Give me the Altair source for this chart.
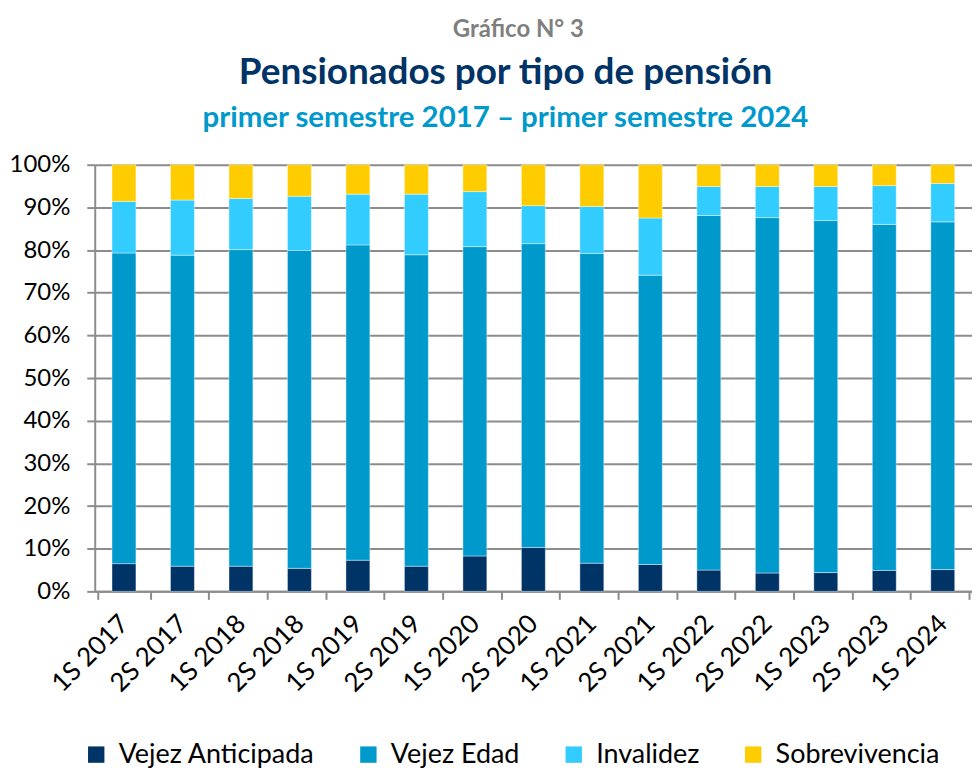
import altair as alt
import pandas as pd

categories = ["1S 2017", "2S 2017", "1S 2018", "2S 2018", "1S 2019", "2S 2019",
              "1S 2020", "2S 2020", "1S 2021", "2S 2021", "1S 2022", "2S 2022",
              "1S 2023", "2S 2023", "1S 2024"]
vejez_anticipada = [6.5, 5.9, 5.9, 5.4, 7.3, 5.9, 8.3, 10.3, 6.6, 6.3, 5.0, 4.3, 4.4, 4.9, 5.1]
vejez_edad = [72.8, 72.9, 74.2, 74.5, 73.9, 73.0, 72.5, 71.2, 72.6, 67.8, 83.1, 83.3, 82.5, 81.1, 81.5]
invalidez = [12.1, 12.9, 12.0, 12.7, 11.9, 14.2, 12.9, 8.9, 11.0, 13.4, 6.8, 7.3, 8.0, 9.1, 9.0]
sobrevivencia = [8.6, 8.3, 7.9, 7.4, 6.9, 6.9, 6.3, 9.6, 9.8, 12.5, 5.1, 5.1, 5.1, 4.9, 4.4]

series_names = ["Vejez Anticipada", "Vejez Edad", "Invalidez", "Sobrevivencia"]
series_colors = ["#003366", "#0099CC", "#33CCFF", "#FFCC00"]
y_ticks = [0, 0.1, 0.2, 0.3, 0.4, 0.5, 0.6, 0.7, 0.8, 0.9, 1.0]

rows = []
for i, c in enumerate(categories):
    for k, (name, vals) in enumerate(zip(series_names,
                                         [vejez_anticipada, vejez_edad, invalidez, sobrevivencia])):
        rows.append({"periodo": c, "tipo": name, "valor": vals[i], "orden": k})
df = pd.DataFrame(rows)

FONT = "Lato"

bars = alt.Chart(df).mark_bar(size=24, stroke="#ffffff", strokeWidth=1, strokeOpacity=0.4).encode(
    x=alt.X("periodo:N", sort=categories, title=None,
            axis=alt.Axis(labelAngle=-45, labelAlign="right", labelBaseline="middle",
                          labelFontSize=26, labelFont=FONT, labelColor="#000000",
                          labelPadding=20, tickBand="extent", tickSize=8,
                          tickColor="#8c8c8c", tickWidth=2, domainColor="#8c8c8c",
                          domainWidth=2, grid=False)),
    y=alt.Y("valor:Q", stack="normalize", title=None,
            scale=alt.Scale(domain=[0, 1], nice=False),
            axis=alt.Axis(values=y_ticks, format=".0%", labelFontSize=24, labelFont=FONT,
                          labelColor="#000000", labelPadding=17, tickSize=8,
                          tickColor="#8c8c8c", tickWidth=2, domainColor="#8c8c8c",
                          domainWidth=2, gridColor="#8c8c8c", gridWidth=2)),
    color=alt.Color("tipo:N", sort=series_names,
                    scale=alt.Scale(domain=series_names, range=series_colors),
                    legend=alt.Legend(title=None, orient="none", direction="horizontal",
                                      legendX=-12, legendY=578, symbolType="square",
                                      symbolSize=270, symbolStrokeWidth=0,
                                      labelFontSize=27, labelFont=FONT, labelColor="#000000",
                                      labelLimit=0, columnPadding=40, labelOffset=9)),
    order=alt.Order("orden:Q", sort="ascending"),
)

title_df = pd.DataFrame({"t": [0]})
t1 = alt.Chart(title_df).mark_text(font=FONT, fontSize=24, fontWeight="bold", color="#7f7f7f",
                                   baseline="middle", align="center").encode(
    x=alt.value(425), y=alt.value(-135), text=alt.value("Gráfico N° 3"))
t2 = alt.Chart(title_df).mark_text(font=FONT, fontSize=37, fontWeight="bold", color="#003366",
                                   baseline="middle", align="center").encode(
    x=alt.value(412), y=alt.value(-92), text=alt.value("Pensionados por tipo de pensión"))
t3 = alt.Chart(title_df).mark_text(font=FONT, fontSize=29.5, fontWeight="bold", color="#0099CC",
                                   baseline="middle", align="center").encode(
    x=alt.value(412), y=alt.value(-47), text=alt.value("primer semestre 2017 – primer semestre 2024"))

chart = alt.layer(bars, t1, t2, t3).properties(
    width=880, height=428,
    autosize=alt.AutoSizeParams(type="none"),
    padding={"left": 87, "top": 156, "right": 0, "bottom": 176},
).configure_view(stroke=None).configure_axis(labelFont=FONT)

chart.save("out.html", embed_options={"renderer": "svg", "actions": False})
